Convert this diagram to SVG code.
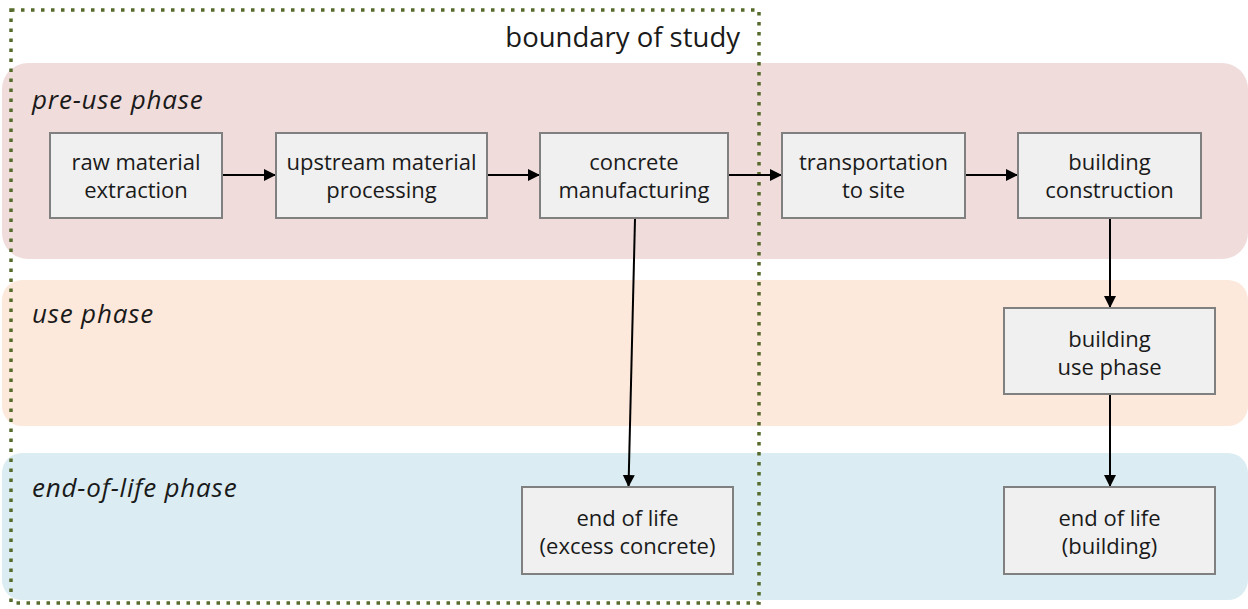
<svg xmlns="http://www.w3.org/2000/svg" width="1248" height="609" viewBox="0 0 1248 609">
<style>
.node rect{fill:#f0f0f0;stroke:#808080;stroke-width:2}
.node text{font-family:"Open Sans","Noto Sans",sans-serif;font-size:22px;fill:#1a1a1a;text-anchor:middle}
.phase{font-family:"Open Sans","Noto Sans",sans-serif;font-size:26px;letter-spacing:0.8px;font-style:italic;fill:#1a1a1a}
.conn line{stroke:#000;stroke-width:2;marker-end:url(#ah)}
</style>
<defs>
<marker id="ah" markerWidth="13" markerHeight="13" refX="12" refY="6.5" orient="auto" markerUnits="userSpaceOnUse">
<path d="M0,0.5 L12,6.5 L0,12.5 Z" fill="#000"/>
</marker>
</defs>
<rect width="1248" height="609" fill="#fff"/>
<g id="bands">
<rect id="band-preuse" x="2" y="63" width="1246" height="196" rx="26" fill="#f1dcdc"/>
<rect id="band-use" x="2" y="280" width="1246" height="146" rx="20" fill="#fde9dc"/>
<rect id="band-eol" x="2" y="453" width="1246" height="147" rx="20" fill="#dbedf2"/>
<text class="phase" x="32" y="109">pre-use phase</text>
<text class="phase" x="32" y="323">use phase</text>
<text class="phase" x="32" y="497">end-of-life phase</text>
</g>
<g id="boundary">
<rect x="11" y="10" width="748" height="593" fill="none" stroke="#566b2c" stroke-width="3.5" stroke-dasharray="3.5 6.5"/>
<text x="740" y="47" font-family="Open Sans, Noto Sans, sans-serif" font-size="27.5" text-anchor="end" fill="#1a1a1a">boundary of study</text>
</g>
<g class="conn" id="connectors">
<line x1="222" y1="175" x2="276" y2="175"/>
<line x1="487" y1="175" x2="540" y2="175"/>
<line x1="728" y1="175" x2="782" y2="175"/>
<line x1="965" y1="175" x2="1018" y2="175"/>
<line x1="635" y1="219" x2="628.5" y2="487"/>
<line x1="1110" y1="219" x2="1110" y2="308"/>
<line x1="1110" y1="394" x2="1110" y2="487"/>
</g>
<g class="node" id="n-raw"><rect x="50" y="133" width="172" height="85"/><text x="136" y="170">raw material</text><text x="136" y="198">extraction</text></g>
<g class="node" id="n-upstream"><rect x="276" y="133" width="211" height="85"/><text x="381.5" y="170">upstream material</text><text x="381.5" y="198">processing</text></g>
<g class="node" id="n-concrete"><rect x="540" y="133" width="188" height="85"/><text x="634" y="170">concrete</text><text x="634" y="198">manufacturing</text></g>
<g class="node" id="n-transport"><rect x="782" y="133" width="183" height="85"/><text x="873.5" y="170">transportation</text><text x="873.5" y="198">to site</text></g>
<g class="node" id="n-construction"><rect x="1018" y="133" width="183" height="85"/><text x="1109.5" y="170">building</text><text x="1109.5" y="198">construction</text></g>
<g class="node" id="n-use"><rect x="1004" y="308" width="211" height="86"/><text x="1109.5" y="347">building</text><text x="1109.5" y="375">use phase</text></g>
<g class="node" id="n-eol-building"><rect x="1004" y="487" width="211" height="87"/><text x="1109.5" y="526">end of life</text><text x="1109.5" y="554">(building)</text></g>
<g class="node" id="n-eol-concrete"><rect x="522" y="487" width="211" height="87"/><text x="627.5" y="526">end of life</text><text x="627.5" y="554">(excess concrete)</text></g>
</svg>
